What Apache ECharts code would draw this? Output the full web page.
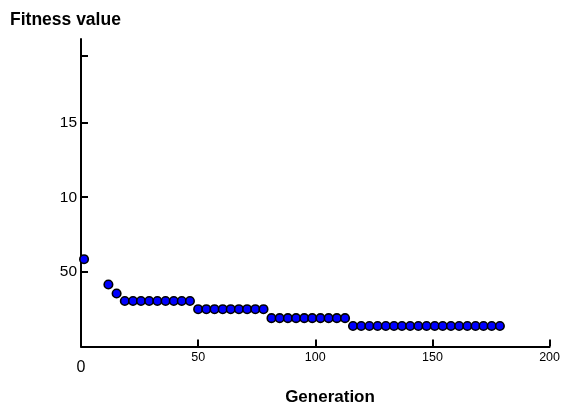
<!DOCTYPE html>
<html>
<head>
<meta charset="utf-8">
<script src="https://cdn.jsdelivr.net/npm/echarts@6/dist/echarts.min.js"></script>
<style>html,body{margin:0;padding:0;background:#fff}#c{width:563px;height:408px}</style>
</head>
<body>
<div id="c"></div>
<script>
// Generation of each plotted point
var generations = [1.3, 11.7, 15.2, 18.7, 22.2, 25.6, 29.1, 32.6, 36.1, 39.6, 43.0, 46.5,
  50.0, 53.5, 57.0, 60.5, 63.9, 67.4, 70.9, 74.4, 77.9,
  81.3, 84.8, 88.3, 91.8, 95.3, 98.7, 102.2, 105.7, 109.2, 112.7,
  116.1, 119.6, 123.1, 126.6, 130.1, 133.6, 137.0, 140.5, 144.0, 147.5, 151.0, 154.4,
  157.9, 161.4, 164.9, 168.4, 171.8, 175.3, 178.8];
// Best fitness value at those generations
var fitness = [5.85, 4.15, 3.55, 3.05, 3.05, 3.05, 3.05, 3.05, 3.05, 3.05, 3.05, 3.05,
  2.5, 2.5, 2.5, 2.5, 2.5, 2.5, 2.5, 2.5, 2.5,
  1.9, 1.9, 1.9, 1.9, 1.9, 1.9, 1.9, 1.9, 1.9, 1.9,
  1.37, 1.37, 1.37, 1.37, 1.37, 1.37, 1.37, 1.37, 1.37, 1.37, 1.37, 1.37,
  1.37, 1.37, 1.37, 1.37, 1.37, 1.37, 1.37];
var xTickValues = [50, 100, 150, 200];
var xLabelValues = [0, 50, 100, 150, 200];
var xLabelText = ['0', '50', '100', '150', '200'];
var yTickValues = [5, 10, 15, 19.5];
var yLabelValues = [5, 10, 15];
var yLabelText = ['50', '10', '15'];

var points = generations.map(function (g, i) { return [g, fitness[i]]; });
var FONT = 'Liberation Sans, Arial, sans-serif';

var chart = echarts.init(document.getElementById('c'), null, { renderer: 'canvas' });
chart.setOption({
  animation: false,
  backgroundColor: '#fff',
  title: [
    { text: 'Fitness value', left: 10, top: 11, padding: 0,
      textStyle: { fontFamily: FONT, fontSize: 17.5, fontWeight: 'bold', color: '#000' } },
    { text: 'Generation', left: 330, top: 389, padding: 0, textAlign: 'center',
      textStyle: { fontFamily: FONT, fontSize: 17, fontWeight: 'bold', color: '#000' } }
  ],
  grid: { left: 81, right: 8, top: 39, bottom: 61.5, containLabel: false },
  xAxis: {
    type: 'value', min: 0, max: 200,
    splitLine: { show: false },
    axisLine: { show: true, onZero: false, lineStyle: { color: '#000', width: 2 } },
    axisTick: { show: true, inside: true, length: 7, customValues: xTickValues,
      lineStyle: { color: '#000', width: 2 } },
    axisLabel: {
      customValues: xLabelValues, margin: 5,
      fontFamily: FONT, fontSize: 12.5, color: '#000',
      formatter: function (v) {
        var i = xLabelValues.indexOf(v);
        if (i < 0) return '';
        return v === 0 ? '{z|' + xLabelText[i] + '}' : xLabelText[i];
      },
      rich: { z: { fontFamily: FONT, fontSize: 16, color: '#000', padding: [8, 0, 0, 0] } }
    }
  },
  yAxis: {
    type: 'value', min: 0, max: 20.6,
    splitLine: { show: false },
    axisLine: { show: true, lineStyle: { color: '#000', width: 2 } },
    axisTick: { show: true, inside: true, length: 7, customValues: yTickValues,
      lineStyle: { color: '#000', width: 2 } },
    axisLabel: {
      customValues: yLabelValues, margin: 4,
      fontFamily: FONT, fontSize: 15.5, color: '#000',
      formatter: function (v) {
        var i = yLabelValues.indexOf(v);
        return i < 0 ? '' : yLabelText[i];
      }
    }
  },
  series: [{
    type: 'scatter',
    data: points,
    symbol: 'circle',
    symbolSize: 8.5,
    itemStyle: { color: '#0000ff', borderColor: '#000', borderWidth: 1.6, opacity: 1 },
    clip: false
  }]
});
</script>
</body>
</html>
